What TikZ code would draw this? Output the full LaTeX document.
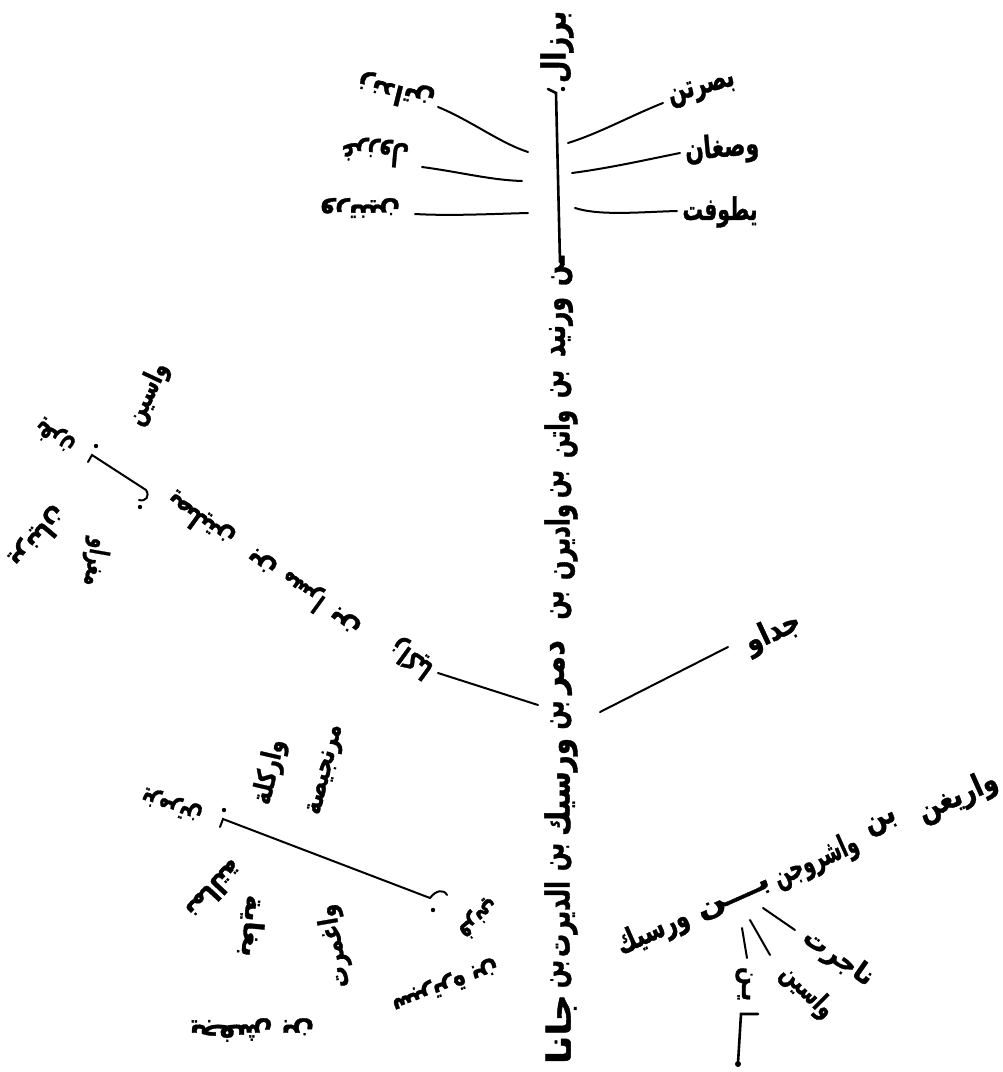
\documentclass[tikz,border=0pt]{standalone}
\usepackage{fontspec}
\usepackage{graphicx}
\newfontfamily\arfont[Script=Arabic,FakeBold=1.3]{DejaVu Sans Bold}
\TeXXeTstate=1
\newcommand\fw[2]{\resizebox{#1pt}{\height}{#2}}
\tikzset{
  ar/.style={inner sep=0pt, font=\arfont\fontsize{33}{36}\selectfont},
  armd/.style={inner sep=0pt, font=\arfont\fontsize{31}{34}\selectfont},
  arsm/.style={inner sep=0pt, font=\arfont\fontsize{27}{30}\selectfont},
  conn/.style={line width=2pt, line cap=round},
  trunkline/.style={line width=2.6pt, line cap=round},
}
\begin{document}
\begin{tikzpicture}[x=1pt,y=-1pt]
\useasboundingbox (0,0) rectangle (1003,1072);
\fill[white] (0,0) rectangle (1003,1072);

% ---- trunk ----
\node[ar,rotate=90] (barzal) at (557,47) {\fw{72}{\beginR برزال\endR}};
\coordinate (tbtop) at (556,93);
\coordinate (tbbot) at (560,262);
\draw[trunkline] (548,89) -- (tbtop) -- (tbbot);
\fill (563,89) circle (2.2pt);
\node[ar,rotate=90] (w0) at (562,271) {\fw{30}{\beginR ـن\endR}};
\node[ar,rotate=90] (w1) at (561,327) {\fw{60}{\beginR ورنيد\endR}};
\node[ar,rotate=90] (w2) at (561,384) {\fw{28}{\beginR بن\endR}};
\node[ar,rotate=90] (w3) at (561,434) {\fw{48}{\beginR واتن\endR}};
\node[ar,rotate=90] (w4) at (561,484) {\fw{28}{\beginR بن\endR}};
\node[ar,rotate=90] (w5) at (561,542) {\fw{76}{\beginR واديرن\endR}};
\node[ar,rotate=90] (w6) at (561,605) {\fw{29}{\beginR بن\endR}};
\node[ar,rotate=90] (w7) at (561,667) {\fw{54}{\beginR دمر\endR}};
\node[ar,rotate=90] (w8) at (561,715) {\fw{29}{\beginR بن\endR}};
\node[ar,rotate=90] (w9) at (561,787) {\fw{98}{\beginR ورسيك\endR}};
\node[ar,rotate=90] (w10) at (561,857) {\fw{28}{\beginR بن\endR}};
\node[ar,rotate=90] (w11) at (561,919) {\fw{76}{\beginR الديرت\endR}};
\node[ar,rotate=90] (w12) at (561,974) {\fw{28}{\beginR بن\endR}};
\node[ar,rotate=90] (w13) at (561,1029) {\fw{70}{\beginR جانا\endR}};

% ---- right sons ----
\node[armd,rotate=15] (r1) at (702,90) {\fw{68}{\beginR بصرتن\endR}};
\node[armd,rotate=5] (r2) at (722,149) {\fw{74}{\beginR وصغان\endR}};
\node[armd] (r3) at (720,212) {\fw{75}{\beginR يطوفت\endR}};
\coordinate (r1a) at (568,143); \coordinate (r1b) at (663,103);
\coordinate (r2a) at (572,173); \coordinate (r2b) at (680,153);
\coordinate (r3a) at (575,208); \coordinate (r3b) at (677,211);
\draw[conn] (r1a) .. controls (600,133) and (630,116) .. (r1b);
\draw[conn] (r2a) .. controls (610,168) and (645,160) .. (r2b);
\draw[conn] (r3a) .. controls (600,216) and (640,212) .. (r3b);

% ---- left sons (upside down) ----
\node[arsm,rotate=166] (l1) at (396,92) {\fw{78}{\beginR زنداتن\endR}};
\node[arsm,rotate=175] (l2) at (375,152) {\fw{68}{\beginR غرزول\endR}};
\node[arsm,rotate=180] (l3) at (360,208) {\fw{80}{\beginR ورتنين\endR}};
\coordinate (l1a) at (528,152); \coordinate (l1b) at (438,107);
\coordinate (l2a) at (522,181); \coordinate (l2b) at (422,167);
\coordinate (l3a) at (528,213); \coordinate (l3b) at (415,214);
\draw[conn] (l1a) .. controls (500,143) and (470,120) .. (l1b);
\draw[conn] (l2a) .. controls (490,180) and (460,172) .. (l2b);
\draw[conn] (l3a) .. controls (490,214) and (450,216) .. (l3b);

% ---- Jadaw ----
\node[armd,rotate=25] (jadaw) at (773,633) {\fw{58}{\beginR جداو\endR}};
\coordinate (ja) at (600,712); \coordinate (jb) at (728,647);
\draw[conn] (ja) -- (jb);

% ---- left diagonal branch (upside down) ----
\coordinate (da) at (538,705); \coordinate (db) at (438,673);
\draw[conn] (da) -- (db);
\node[arsm,rotate=144] (d1) at (412,658) {\fw{46}{\beginR زاكيا\endR}};
\node[arsm,rotate=144] (d2) at (346,620) {\fw{32}{\beginR بن\endR}};
\node[arsm,rotate=144] (d3) at (303,590) {\fw{48}{\beginR مسرا\endR}};
\node[arsm,rotate=144] (d4) at (263,561) {\fw{30}{\beginR بن\endR}};
\node[arsm,rotate=144] (d5) at (200,520) {\fw{76}{\beginR يصليتن\endR}};
\coordinate (dka) at (92,455); \coordinate (dkb) at (146,490);
\draw[conn] (88,462) -- (dka) -- (dkb) .. controls (150,496) and (146,502) .. (139,500);
\fill (96,446) circle (2.2pt);
\fill (140,507) circle (2.2pt);
\node[arsm,rotate=144] (d6) at (55,436) {\fw{42}{\beginR يفرن\endR}};
\node[arsm,rotate=65] (d7) at (148,394) {\fw{66}{\beginR واسين\endR}};
\node[arsm,rotate=230] (d8) at (38,537) {\fw{72}{\beginR يرنيان\endR}};
\node[arsm,rotate=260] (d9) at (95,562) {\fw{48}{\beginR مغراو\endR}};

% ---- lower left branch ----
\coordinate (ka) at (223,819); \coordinate (kb) at (430,898);
\draw[conn] (220,827) -- (ka) -- (kb) .. controls (436,890) and (444,889) .. (447,895);
\fill (224,810) circle (2.2pt);
\fill (433,910) circle (2.2pt);
\node[arsm,rotate=160] (k1) at (172,805) {\fw{62}{\beginR يزمرتن\endR}};
\node[arsm,rotate=77] (k2) at (270,772) {\fw{66}{\beginR واركلة\endR}};
\node[arsm,rotate=76] (k3) at (327,770) {\fw{92}{\beginR مرنجيصة\endR}};
\node[arsm,rotate=220] (k4) at (478,918) {\fw{46}{\beginR فرني\endR}};
\node[arsm,rotate=200] (k5) at (445,985) {\fw{112}{\beginR سبرترة بن\endR}};
\node[arsm,rotate=100] (k6) at (335,946) {\fw{84}{\beginR واغمرت\endR}};
\node[arsm,rotate=227] (k7) at (215,890) {\fw{70}{\beginR نمالتة\endR}};
\node[arsm,rotate=265] (k8) at (252,926) {\fw{62}{\beginR بغاية\endR}};
\node[arsm,rotate=180] (k9) at (252,1030) {\fw{124}{\beginR يجفش بن\endR}};

% ---- bottom right branch ----
\node[armd,rotate=24] (wr1) at (958,797) {\fw{84}{\beginR واريغن\endR}};
\node[armd,rotate=24] (wr2) at (882,824) {\fw{32}{\beginR بن\endR}};
\node[armd,rotate=24] (wr3) at (816,861) {\fw{90}{\beginR واشروجن\endR}};
\node[arsm,rotate=24] (wr4) at (735,900) {\fw{78}{\beginR بـــن\endR}};
\node[armd,rotate=24] (wr5) at (653,932) {\fw{76}{\beginR ورسيك\endR}};
\coordinate (s1a) at (763,908); \coordinate (s1b) at (795,930);
\coordinate (s2a) at (750,920); \coordinate (s2b) at (770,955);
\coordinate (s3a) at (742,928); \coordinate (s3b) at (747,958);
\draw[conn] (s1a) -- (s1b);
\draw[conn] (s2a) -- (s2b);
\draw[conn] (s3a) -- (s3b);
\node[arsm,rotate=-35] (c1) at (838,958) {\fw{80}{\beginR ناجرت\endR}};
\node[arsm,rotate=-45] (c2) at (807,992) {\fw{64}{\beginR واسين\endR}};
\node[arsm,rotate=-90] (c3) at (744,984) {\fw{34}{\beginR يـن\endR}};
\coordinate (c4a) at (758,1014); \coordinate (c4b) at (738,1063);
\draw[trunkline] (c4a) -- (741,1014) -- (c4b);
\fill (738,1064) circle (3pt);
\end{tikzpicture}
\end{document}
